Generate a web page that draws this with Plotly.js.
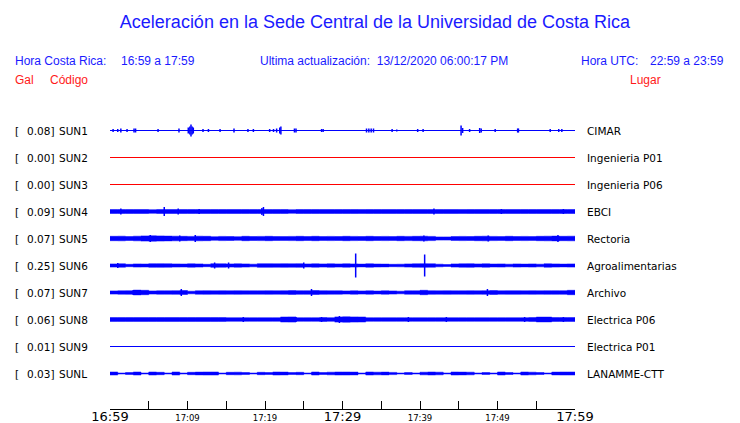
<!DOCTYPE html>
<html>
<head>
<meta charset="utf-8">
<script src="https://cdn.plot.ly/plotly-3.0.1.min.js"></script>
<style>html,body{margin:0;padding:0;background:#fff;}#chart{width:740px;height:423px;}</style>
</head>
<body>
<div id="chart"></div>
<script>
// ---------- DATA ----------
const codes  = ['SUN1','SUN2','SUN3','SUN4','SUN5','SUN6','SUN7','SUN8','SUN9','SUNL'];
const galValues = ['0.08','0.00','0.00','0.09','0.07','0.25','0.07','0.06','0.01','0.03'];
const places = ['CIMAR','Ingenieria P01','Ingenieria P06','EBCI','Rectoria','Agroalimentarias','Archivo','Electrica P06','Electrica P01','LANAMME-CTT'];
const traceColors = ['#0000ff','#ff0000','#ff0000','#0000ff','#0000ff','#0000ff','#0000ff','#0000ff','#0000ff','#0000ff'];

// minutes after 16:59 (0..60)
const tickMinutes = [0,5,10,15,20,25,30,35,40,45,50,55,60];
const tickLabels  = ['16:59','','17:09','','17:19','','17:29','','17:39','','17:49','','17:59'];
const bigTicks    = ['16:59','17:29','17:59'];

// per-minute envelope (half amplitude, arbitrary units) read from the record
const sun1Amp = [];
const sun2Amp = [];
const sun3Amp = [];
const sun4Amp = [2,2,2,2,2,1.8,2,2,2,2, 2,2,2,2,2,2,2,2,2,2, 2,2,2,1.8,2,2,2,2,2,2, 2,2,1.9,2,2,2,2,2,2,2, 2,2,2,2,2,1.9,2,2,2,2, 2,2,2,2,2,2,2,2,2,2];
const sun5Amp = [2.2,2.3,2.0,2.3,2.6,2.7,2.6,2.4,2.3,2.2, 2.1,2.3,2.2,1.8,2.1,2.0,1.8,2.2,2.0,2.1, 2.2,2.0,1.9,2.1,2.2,2.0,2.2,1.9,2.1,2.0, 2.2,2.1,2.0,2.2,2.0,2.1,1.9,2.2,2.1,2.2, 2.3,2.1,1.6,1.6,1.9,2.1,2.0,2.2,2.3,2.1, 1.9,2.2,2.0,2.1,1.9,2.2,2.3,2.4,2.2,2.3];
const sun6Amp = [1.6,1.7,1.2,1.6,1.5,1.8,1.8,1.7,1.6,1.5, 1.7,1.6,1.2,1.8,1.7,1.6,1.7,1.6,1.3,1.8, 1.8,1.7,1.8,1.7,1.8,1.6,1.7,1.6,1.7,1.6, 1.7,1.6,1.4,1.7,1.5,1.4,1.2,1.3,1.6,1.7, 1.8,1.7,1.3,1.0,1.6,1.7,1.8,1.6,1.7,1.5, 1.6,1.3,1.6,1.4,1.6,1.3,1.7,1.6,1.4,1.6];
const sun7Amp = [1.6,1.7,1.8,2.4,2.2,1.6,1.7,1.7,1.8,2.0, 1.3,1.7,1.8,1.7,1.8,1.7,1.8,1.7,1.7,1.7, 1.8,1.7,1.8,1.9,1.8,1.8,2.0,1.8,1.7,1.7, 1.6,1.7,1.6,1.7,1.5,1.7,1.6,1.3,1.7,1.7, 2.2,1.8,1.7,1.8,1.7,1.7,1.8,1.7,1.8,2.0, 1.7,1.8,1.8,1.7,1.8,1.7,1.8,1.8,1.8,2.2];
const sun8Amp = [1.9,1.9,1.9,1.9,1.9,1.9,1.9,1.9,1.9,1.9, 1.9,1.9,1.9,1.9,1.9,1.8,1.8,1.8,1.8,1.8, 1.8,1.8,2.5,2.6,1.8,1.8,1.8,1.9,1.8,2.6, 2.7,2.6,2.5,1.8,1.8,1.8,1.8,1.8,1.8,1.8, 1.8,1.8,1.8,1.8,1.8,1.8,1.8,1.8,1.8,1.8, 1.8,1.8,1.8,1.8,1.9,2.4,2.4,1.9,1.9,1.9];
const sun9Amp = [];
const sunLAmp = [1.5,0.5,1.0,1.5,0.5,1.5,1.2,0.5,1.5,0.5, 1.2,1.4,1.5,1.5,0.5,1.2,1.3,1.0,0.5,1.2, 1.0,1.5,1.4,1.0,1.2,0.5,1.5,1.0,1.3,1.5, 1.5,1.4,0.5,1.5,1.3,1.4,1.1,0.5,1.0,0.5, 1.3,1.5,1.3,0.5,1.5,1.4,1.3,0.5,1.0,0.5, 1.5,1.0,0.5,1.5,1.3,1.0,0.5,1.4,1.5,1.5];

// isolated bursts: minute and half amplitude
const sun1SpikeT = [0.4,1.0,1.4,2.2,3.1,3.3,6.2,8.9,10.1,10.3,10.45,10.6,10.75,12.0,12.7,14.2,16.0,17.8,18.5,20.6,21.1,21.5,21.9,22.05,23.8,24.0,27.3,27.5,33.1,33.4,33.7,34.0,36.4,37.0,39.7,40.4,45.3,45.5,46.4,47.7,47.9,49.7,52.6,52.7,56.8,57.9,58.3];
const sun1SpikeA = [1.5,1.5,2,1.5,2,2,1.5,2,3,4,6,4,3,1.5,1.5,1.5,2,1.5,1.5,1.5,1.5,2,3,4,2,2,1.5,1.5,2,2,2,2,1.5,1,1.5,1.5,5,2.5,1.5,2.5,2,1.5,2,2,1.5,1.5,1.5];
const sun4SpikeT = [1.4,7.0,8.8,11.5,19.6,19.8,41.8,50.5,58.5];
const sun4SpikeA = [3,4.5,3,2.5,3.5,4.5,3,2.5,2.5];
const sun5SpikeT = [5.2,9.0,11.0,40.5,48.8,57.8];
const sun5SpikeA = [3.5,3,3.5,3,3,3.5];
const sun6SpikeT = [1.0,13.5,15.3,25.0,31.7,40.6];
const sun6SpikeA = [2.5,3,3,3,12,11];
const sun7SpikeT = [3.0,9.2,26.0,48.7];
const sun7SpikeA = [2.5,3.5,3.5,3.5];
const sun8SpikeT = [17.2,24.0,27.3,29.6,38.5,43.4,53.5,58.5];
const sun8SpikeA = [2.5,2.5,2.5,3.5,2.5,2.5,2.5,2.5];
const sunLSpikeT = [];
const sunLSpikeA = [];

// ---------- DRAWING ----------
const ampList = [sun1Amp,sun2Amp,sun3Amp,sun4Amp,sun5Amp,sun6Amp,sun7Amp,sun8Amp,sun9Amp,sunLAmp];
const spikeTList = [sun1SpikeT,[],[],sun4SpikeT,sun5SpikeT,sun6SpikeT,sun7SpikeT,sun8SpikeT,[],sunLSpikeT];
const spikeAList = [sun1SpikeA,[],[],sun4SpikeA,sun5SpikeA,sun6SpikeA,sun7SpikeA,sun8SpikeA,[],sunLSpikeA];
const K = 1/27; // amplitude units -> row units

const traces = [];
codes.forEach((c, r) => {
  const col = traceColors[r];
  // baseline
  traces.push({type:'scatter', mode:'lines', x:[0,60], y:[r,r], line:{color:col, width:1}, hoverinfo:'skip'});
  // envelope band (step shaped)
  const amp = ampList[r];
  if (amp.length) {
    const xs = [], ys = [];
    for (let i = 0; i < amp.length; i++) { xs.push(i, i+1); ys.push(r - amp[i]*K, r - amp[i]*K); }
    for (let i = amp.length-1; i >= 0; i--) { xs.push(i+1, i); ys.push(r + amp[i]*K, r + amp[i]*K); }
    traces.push({type:'scatter', mode:'lines', x:xs, y:ys, fill:'toself', fillcolor:col,
                 line:{width:0.5, color:col, simplify:false}, hoverinfo:'skip'});
  }
  // spikes
  const st = spikeTList[r], sa = spikeAList[r];
  if (st.length) {
    const xs = [], ys = [];
    st.forEach((t, i) => { xs.push(t, t, null); ys.push(r - sa[i]*K, r + sa[i]*K, null); });
    traces.push({type:'scatter', mode:'lines', x:xs, y:ys, line:{color:col, width:1.5, simplify:false}, hoverinfo:'skip', connectgaps:false});
  }
});

const L = 110, R = 575, T = 103, B = 409;
const px = v => (v - L) / (R - L);
const py = v => (B - v) / (B - T);
const sans = 'Liberation Sans, Arial, sans-serif';
const dj = 'DejaVu Sans, sans-serif';
const blue = '#1a1aff', red = '#ff1a1a';

const annotations = [];
function ann(text, x, y, color, size, family, xanchor) {
  annotations.push({xref:'paper', yref:'paper', x:px(x), y:py(y), text, showarrow:false,
    xanchor: xanchor || 'left', yanchor:'middle', font:{family, size, color}, borderpad:0});
}
ann('Hora Costa Rica:', 14, 61, blue, 12, sans);
ann('16:59 a 17:59', 120, 61, blue, 12, sans);
ann('Ultima actualización:  13/12/2020 06:00:17 PM', 259, 61, blue, 12, sans);
ann('Hora UTC:', 580, 61, blue, 12, sans);
ann('22:59 a 23:59', 649, 61, blue, 12, sans);
ann('Gal', 14, 80, red, 12, sans);
ann('Código', 49, 80, red, 12, sans);
ann('Lugar', 629, 80, red, 12, sans);

codes.forEach((c, r) => {
  const base = {xref:'paper', yref:'y', y:r, showarrow:false, yanchor:'middle', borderpad:0, font:{family:dj, size:10.5, color:'#000'}};
  annotations.push(Object.assign({}, base, {x:px(14), xanchor:'left', text:'['}));
  annotations.push(Object.assign({}, base, {x:px(55), xanchor:'right', text:galValues[r] + ']'}));
  annotations.push(Object.assign({}, base, {x:px(58), xanchor:'left', text:c}));
  annotations.push(Object.assign({}, base, {x:px(586), xanchor:'left', text:places[r]}));
});

const tickText = tickLabels.map(t => t === '' ? '' : (bigTicks.includes(t) ? '<span style="font-size:13px">' + t + '</span>' : '<span style="font-size:8.5px">' + t + '</span>'));

// rows sit on half-pixel centres so 1px lines stay crisp
const yTop = -1 - 0.5/27, yBottom = (B - (T + 27.5)) / 27;

const layout = {
  width:740, height:423,
  margin:{l:L, r:740-R, t:T, b:423-B, pad:0},
  paper_bgcolor:'#fff', plot_bgcolor:'#fff',
  showlegend:false,
  title:{text:'Aceleración en la Sede Central de la Universidad de Costa Rica', font:{family:sans, size:18, color:blue},
         xref:'container', x:375/740, xanchor:'center', yref:'container', y:1-22/423, yanchor:'middle'},
  xaxis:{range:[0,60], showgrid:false, zeroline:false, showline:true, linecolor:'#000', linewidth:1,
         ticks:'inside', ticklen:8, tickcolor:'#000', tickwidth:1, ticklabelstandoff:-2,
         tickmode:'array', tickvals:tickMinutes, ticktext:tickText,
         tickfont:{family:dj, size:11, color:'#000'}, fixedrange:true, automargin:false},
  yaxis:{range:[yBottom, yTop], visible:false, showgrid:false, zeroline:false, fixedrange:true},
  annotations
};

Plotly.newPlot('chart', traces, layout, {staticPlot:true, displayModeBar:false});
</script>
</body>
</html>
